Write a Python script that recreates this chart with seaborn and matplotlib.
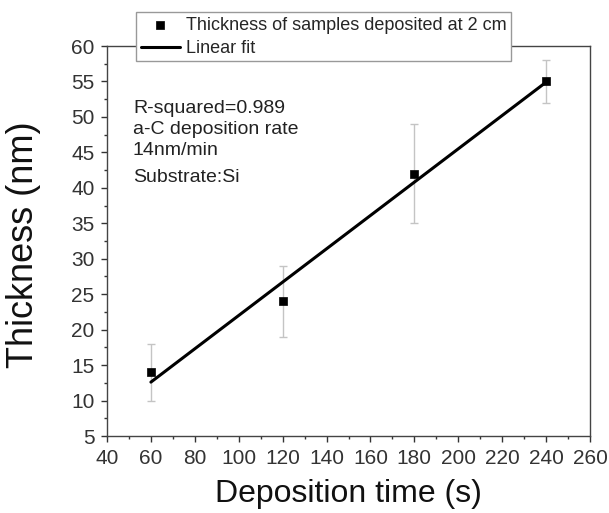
import numpy as np
import pandas as pd
import matplotlib
matplotlib.use("Agg")
import matplotlib.pyplot as plt
import seaborn as sns
from matplotlib.ticker import MultipleLocator, AutoMinorLocator

time_s = [60, 120, 180, 240]
thickness_nm = [14, 24, 42, 55]
err_low = [10, 19, 35, 52]
err_high = [18, 29, 49, 58]

df = pd.DataFrame({"time": time_s, "thickness": thickness_nm})

sns.set_style("ticks")
plt.rcParams["font.family"] = ["Liberation Sans", "DejaVu Sans"]

fig = plt.figure(figsize=(6.09, 5.13), dpi=100)
ax = fig.add_axes([107 / 609, 1 - 436 / 513, (590 - 107) / 609, (436 - 46) / 513])

yerr = [np.array(thickness_nm) - np.array(err_low), np.array(err_high) - np.array(thickness_nm)]
ax.errorbar(time_s, thickness_nm, yerr=yerr, fmt="none", ecolor="#c4c4c4",
            elinewidth=1, capsize=3, capthick=1, zorder=1)
sns.regplot(data=df, x="time", y="thickness", ax=ax, scatter=False, ci=None,
            truncate=True, label="Linear fit", line_kws={"color": "black", "lw": 2.2})
sns.scatterplot(data=df, x="time", y="thickness", ax=ax, marker="s", s=38,
                color="black", edgecolor="black", zorder=3,
                label="Thickness of samples deposited at 2 cm")

ax.set_xlim(40, 260)
ax.set_ylim(5, 60)
ax.xaxis.set_major_locator(MultipleLocator(20))
ax.yaxis.set_major_locator(MultipleLocator(5))
ax.xaxis.set_minor_locator(AutoMinorLocator(2))
ax.yaxis.set_minor_locator(AutoMinorLocator(2))
ax.tick_params(which="major", direction="out", length=4, width=1, labelsize=15,
               colors="#333333", pad=5)
ax.tick_params(which="minor", direction="out", length=2.5, width=1, colors="#333333")
for s in ax.spines.values():
    s.set_color("#444444")
    s.set_linewidth(1)

ax.set_xlabel("Deposition time (s)", fontsize=23, color="#111111")
ax.set_ylabel("Thickness (nm)", fontsize=26, color="#111111")
ax.xaxis.set_label_coords(0.5, -0.11)
ax.yaxis.set_label_coords(-0.136, 0.49)

handles, labels = ax.get_legend_handles_labels()
order = [labels.index("Thickness of samples deposited at 2 cm"), labels.index("Linear fit")]
leg = ax.legend([handles[i] for i in order], [labels[i] for i in order],
                loc="upper left", bbox_to_anchor=(29 / 483, 1 + 34 / 390),
                fontsize=13, frameon=True, fancybox=False, framealpha=1,
                edgecolor="#999999", borderpad=0.25, labelspacing=0.35,
                handlelength=2.2, handletextpad=0.3, borderaxespad=0)
leg.get_frame().set_linewidth(1)

txt = ["R-squared=0.989", "a-C deposition rate", "14nm/min", "Substrate:Si"]
ys = [50.55, 47.59, 44.63, 40.82]
for t, yv in zip(txt, ys):
    ax.text(51.8, yv, t, fontsize=14, color="#222222", va="baseline")

fig.savefig("out.png", dpi=100)
